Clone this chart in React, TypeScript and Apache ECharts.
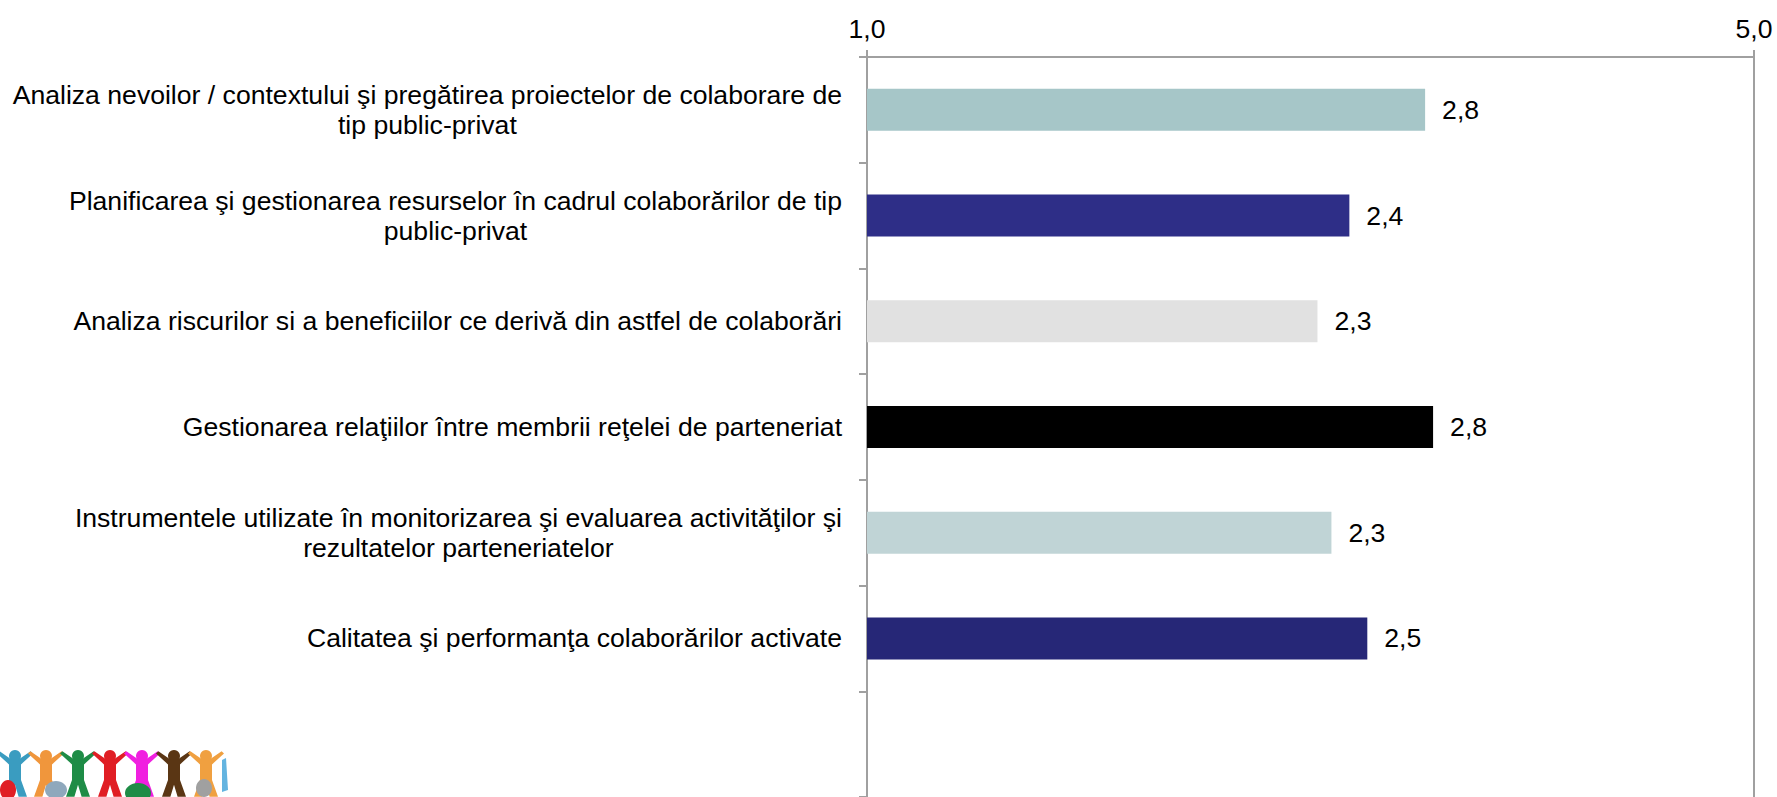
import React, { useEffect, useRef } from "react";
import * as echarts from "echarts";

const categories: string[] = [
  "Analiza nevoilor / contextului şi pregătirea proiectelor de colaborare de\ntip public-privat",
  "Planificarea şi gestionarea resurselor în cadrul colaborărilor de tip\npublic-privat",
  "Analiza riscurilor si a beneficiilor ce derivă din astfel de colaborări",
  "Gestionarea relaţiilor între membrii reţelei de parteneriat",
  "Instrumentele utilizate în monitorizarea şi evaluarea activităţilor şi\nrezultatelor parteneriatelor",
  "Calitatea şi performanţa colaborărilor activate",
  "",
];
const values: number[] = [2.8, 2.42, 2.26, 2.84, 2.33, 2.51];
const barColors: string[] = ["#a6c6c8", "#2e2e87", "#e1e1e1", "#000000", "#c0d4d6", "#262777"];
const scaleTicks: number[] = [1, 5];

const FONT = "'Liberation Sans', Arial, sans-serif";
const FS = 26.6;
const GRAY = "#a0a0a0";

const logoColors = ["#3a9cc0", "#f0963c", "#1e8c46", "#e01e24", "#f020e0", "#5a3614", "#f0a040"];
const logoX = [15, 46, 78, 110, 142, 174, 206];

function figure(x: number, y: number, color: string, s: number) {
  const p = (dx: number, dy: number) => [x + dx * s, y + dy * s];
  return {
    type: "group",
    children: [
      { type: "circle", shape: { cx: x, cy: y, r: 5 * s }, style: { fill: color } },
      {
        type: "polygon",
        shape: {
          points: [
            p(-15, -2), p(-5, 7), p(-5, 20), p(-10, 34), p(-3, 34),
            p(0, 24), p(3, 34), p(10, 34), p(5, 20), p(5, 7),
            p(15, -2), p(13, -4), p(3, 3), p(-3, 3), p(-13, -4),
          ],
        },
        style: { fill: color },
      },
    ],
  };
}

export default function App() {
  const ref = useRef<HTMLDivElement>(null);
  useEffect(() => {
    if (!ref.current) return;
    const chart = echarts.init(ref.current, undefined, { renderer: "svg" });
    const fmt = (v: number) => v.toFixed(1).replace(".", ",");
    const logo: any[] = logoX.map((x, i) => figure(x, 756, logoColors[i], 1.2));
    logo.push({ type: "polygon", shape: { points: [[222, 760], [226, 758], [228, 790], [222, 792]] }, style: { fill: "#64b4e0" } });
    logo.push({ type: "ellipse", shape: { cx: 8, cy: 790, rx: 8, ry: 10 }, style: { fill: "#e01e24" } });
    logo.push({ type: "ellipse", shape: { cx: 56, cy: 790, rx: 11, ry: 9 }, style: { fill: "#8fa8bc" } });
    logo.push({ type: "ellipse", shape: { cx: 138, cy: 793, rx: 13, ry: 10 }, style: { fill: "#1e8c46" } });
    logo.push({ type: "ellipse", shape: { cx: 204, cy: 788, rx: 8, ry: 9 }, style: { fill: "#a0a0a0" } });
    chart.setOption({
      animation: false,
      backgroundColor: "#ffffff",
      grid: { left: 867, right: 23, top: 57, bottom: 0, containLabel: false },
      xAxis: [
        {
          type: "value",
          position: "top",
          min: scaleTicks[0],
          max: scaleTicks[1],
          interval: scaleTicks[1] - scaleTicks[0],
          axisLine: { show: true, lineStyle: { color: GRAY, width: 2 } },
          axisTick: { show: true, length: 7, lineStyle: { color: GRAY, width: 2 } },
          splitLine: { show: true, lineStyle: { color: GRAY, width: 2 } },
          axisLabel: {
            show: true,
            formatter: fmt,
            fontSize: FS,
            fontFamily: FONT,
            color: "#000",
            margin: 15,
          },
        },
        { type: "value", min: 0, max: 4.45, show: false },
      ],
      yAxis: {
        type: "category",
        inverse: true,
        data: categories,
        axisLine: { show: true, lineStyle: { color: GRAY, width: 2 } },
        axisTick: { show: true, length: 8, lineStyle: { color: GRAY, width: 2 } },
        splitLine: { show: false },
        axisLabel: {
          margin: 25,
          color: "#000",
          fontSize: FS,
          fontFamily: FONT,
          lineHeight: 30,
          formatter: (v: string) => (v ? v.split("\n").map((l) => `{c|${l}}`).join("\n") : ""),
          rich: { c: { align: "center", fontSize: FS, fontFamily: FONT, lineHeight: 30, color: "#000" } },
        },
      },
      series: [
        {
          type: "bar",
          xAxisIndex: 1,
          barWidth: 42,
          data: values.map((v, i) => ({ value: v, itemStyle: { color: barColors[i] } })),
          label: {
            show: true,
            position: "right",
            distance: 17,
            formatter: (p: any) => fmt(p.value),
            fontSize: FS,
            fontFamily: FONT,
            color: "#000",
          },
        },
      ],
      graphic: logo,
    });
    return () => chart.dispose();
  }, []);
  return <div ref={ref} style={{ position: "fixed", left: 0, top: 0, width: 1777, height: 797 }} />;
}
